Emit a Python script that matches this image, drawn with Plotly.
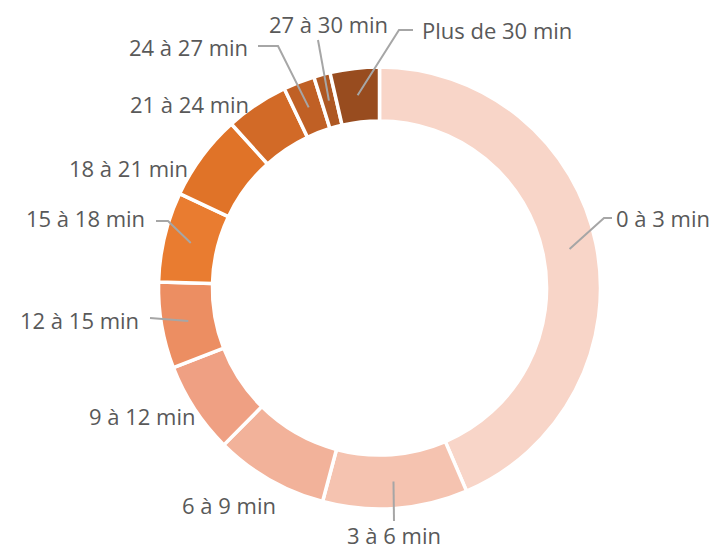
import math
import plotly.graph_objects as go

# Share of trips by duration band (percent)
categories = ["0 à 3 min", "3 à 6 min", "6 à 9 min", "9 à 12 min", "12 à 15 min",
              "15 à 18 min", "18 à 21 min", "21 à 24 min", "24 à 27 min",
              "27 à 30 min", "Plus de 30 min"]
shares = [43.6, 10.6, 8.3, 6.7, 6.3, 6.6, 6.3, 4.6, 2.3, 1.2, 3.6]
colors = ["#F8D5C8", "#F5C3B0", "#F2B29A", "#EFA083", "#EC8E62", "#E97C30",
          "#E07328", "#D26A27", "#C06025", "#AE5823", "#984C1F"]

W, H = 716, 549
CX, CY, R = 379.5, 288.0, 221.0
HOLE = 0.756

# Label text position (pixels) and leader-line waypoints from the text side
label_layout = {
    "0 à 3 min":      dict(pos=(614, 218), anchor="left",   path=[(612, 218), (604, 218)]),
    "3 à 6 min":      dict(pos=(394, 535), anchor="center", path=[(394, 521)]),
    "6 à 9 min":      dict(pos=(229, 505), anchor="center", path=None),
    "9 à 12 min":     dict(pos=(142, 416), anchor="center", path=None),
    "12 à 15 min":    dict(pos=(141, 320), anchor="right",  path=[(150, 318)]),
    "15 à 18 min":    dict(pos=(147, 218), anchor="right",  path=[(156, 221), (168, 221)]),
    "18 à 21 min":    dict(pos=(128, 168), anchor="center", path=None),
    "21 à 24 min":    dict(pos=(189, 104), anchor="center", path=None),
    "24 à 27 min":    dict(pos=(250, 47),  anchor="right",  path=[(258, 46), (278, 46)]),
    "27 à 30 min":    dict(pos=(328, 24),  anchor="center", path=[(318, 40)]),
    "Plus de 30 min": dict(pos=(420, 30),  anchor="left",   path=[(413, 30), (399, 30)]),
}


def to_paper(px, py):
    return px / W, 1 - py / H


fig = go.Figure(go.Pie(
    labels=categories,
    values=shares,
    hole=HOLE,
    sort=False,
    direction="clockwise",
    rotation=0,
    marker=dict(colors=colors, line=dict(color="white", width=3.5)),
    textinfo="none",
    hoverinfo="label+percent",
    showlegend=False,
    domain=dict(x=[(CX - R) / W, (CX + R) / W], y=[1 - (CY + R) / H, 1 - (CY - R) / H]),
))

total = sum(shares)
r_mid = R * (1 + HOLE) / 2
cum = 0.0
annotations, shapes = [], []
for name, val in zip(categories, shares):
    mid = (cum + val / 2) / total * 2 * math.pi
    cum += val
    sx, sy = CX + r_mid * math.sin(mid), CY - r_mid * math.cos(mid)
    spec = label_layout[name]
    tx, ty = to_paper(*spec["pos"])
    annotations.append(dict(
        x=tx, y=ty, xref="paper", yref="paper", text=name, showarrow=False,
        xanchor=spec["anchor"], yanchor="middle",
        font=dict(family="Open Sans, sans-serif", size=22, color="#595959"),
    ))
    if spec["path"]:
        pts = [to_paper(*p) for p in spec["path"]] + [to_paper(sx, sy)]
        d = "M " + " L ".join(f"{x:.5f},{y:.5f}" for x, y in pts)
        shapes.append(dict(type="path", path=d, xref="paper", yref="paper",
                           line=dict(color="#A6A6A6", width=2)))

fig.update_layout(
    width=W, height=H,
    margin=dict(l=0, r=0, t=0, b=0),
    paper_bgcolor="white",
    plot_bgcolor="white",
    annotations=annotations,
    shapes=shapes,
)

fig.write_html("out.html")
